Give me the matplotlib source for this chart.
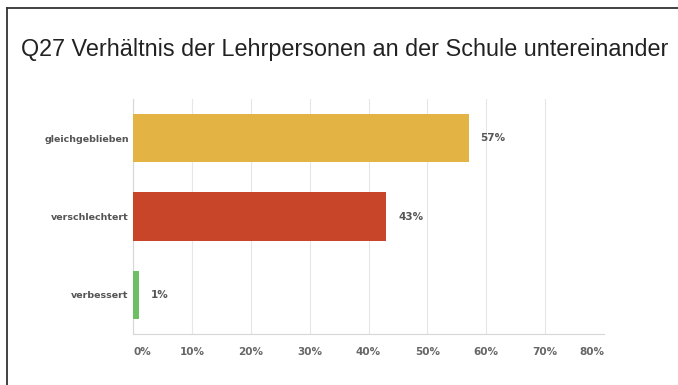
import matplotlib
matplotlib.use("Agg")
import matplotlib.pyplot as plt
from matplotlib.lines import Line2D

# Survey answers and their shares (percent)
categories = ["gleichgeblieben", "verschlechtert", "verbessert"]
shares = [57, 43, 1]
bar_colors = ["#E3B444", "#C8452A", "#6CBF63"]
tick_values = [0, 10, 20, 30, 40, 50, 60, 70, 80]
tick_labels = ["0%", "10%", "20%", "30%", "40%", "50%", "60%", "70%", "80%"]
title = "Q27 Verhältnis der Lehrpersonen an der Schule untereinander"

W, H = 678, 385
fig = plt.figure(figsize=(W / 100, H / 100), dpi=100)
fig.patch.set_facecolor("white")

ax = fig.add_axes([133 / W, 1 - 334 / H, (604 - 133) / W, (334 - 99) / H])
ypos = list(range(len(categories)))
ax.barh(ypos, shares, height=0.62, color=bar_colors, zorder=3)

ax.set_xlim(0, 80)
ax.set_ylim(2.5, -0.5)
ax.set_xticks(tick_values)
ax.set_xticklabels([])
ax.set_yticks(ypos)
ax.set_yticklabels(categories, fontsize=6.8, fontweight="bold", color="#555555",
                   family="DejaVu Sans")
ax.tick_params(axis="both", length=0)
ax.tick_params(axis="y", pad=3)
ax.grid(axis="x", color="#E6E6E6", linewidth=0.8, zorder=0)
for side in ["top", "right"]:
    ax.spines[side].set_visible(False)
ax.spines["left"].set_color("#D6D6D6")
ax.spines["bottom"].set_color("#D6D6D6")
ax.spines["left"].set_linewidth(0.8)
ax.spines["bottom"].set_linewidth(0.8)

# x tick labels: outer ones kept inside the plot area
for v, lab in zip(tick_values, tick_labels):
    ha = "center"
    if v == tick_values[0]:
        ha = "left"
    elif v == tick_values[-1]:
        ha = "right"
    ax.annotate(lab, xy=(v, 1), xycoords=("data", "axes fraction"),
                xytext=(0, -(352 - 99)), textcoords="offset pixels",
                ha=ha, va="center", fontsize=7.5, fontweight="bold",
                color="#666666", family="DejaVu Sans")

# value labels next to bars
for y, v in zip(ypos, shares):
    ax.annotate(f"{v}%", xy=(v, y), xytext=(12, 0), textcoords="offset pixels",
                ha="left", va="center", fontsize=7.5, fontweight="bold",
                color="#555555", family="DejaVu Sans")

fig.text(21 / W, 1 - 56 / H, title, fontsize=16.8, color="#222222",
         family="Liberation Sans", ha="left", va="baseline")

# frame lines on left and top
fig.add_artist(Line2D([6.5 / W, 6.5 / W], [0, 1 - 8 / H], color="#333333",
                      linewidth=1.3, transform=fig.transFigure))
fig.add_artist(Line2D([6.5 / W, 1], [1 - 8 / H, 1 - 8 / H], color="#333333",
                      linewidth=1.3, transform=fig.transFigure))

fig.savefig("out.png", dpi=100, facecolor="white")
